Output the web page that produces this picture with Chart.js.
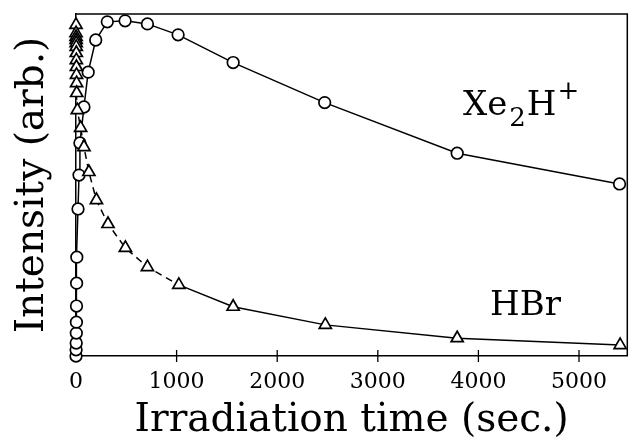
<!DOCTYPE html>
<html>
<head>
<meta charset="utf-8">
<script src="https://cdn.jsdelivr.net/npm/chart.js@4.4.1/dist/chart.umd.min.js"></script>
<style>
  html, body { margin: 0; padding: 0; background: #fff; }
  #wrap { width: 636px; height: 440px; }
</style>
</head>
<body>
<div id="wrap"><canvas id="c" width="636" height="440"></canvas></div>
<script>
// ---- Data ----
const xeTimes = [0, 1, 2, 3, 4, 5, 6, 8, 20, 30, 39, 79, 121, 196, 311, 488, 710, 1015, 1562, 2472, 3789, 5403];
const xeValues = [0, 0.018, 0.038, 0.067, 0.099, 0.146, 0.213, 0.289, 0.430, 0.529, 0.623, 0.728, 0.830, 0.924, 0.977, 0.980, 0.971, 0.939, 0.858, 0.741, 0.593, 0.503];

const hbrTimes = [0, 0.5, 1, 1.5, 2, 2.5, 3, 3.5, 4, 5, 6, 7, 13, 46, 79, 128, 203, 318, 491, 710, 1022, 1562, 2478, 3789, 5409];
const hbrValues = [0.968, 0.944, 0.933, 0.924, 0.915, 0.904, 0.886, 0.865, 0.845, 0.822, 0.798, 0.769, 0.719, 0.667, 0.611, 0.538, 0.456, 0.386, 0.316, 0.260, 0.208, 0.144, 0.091, 0.052, 0.032];

const xTickValues = [0, 1000, 2000, 3000, 4000, 5000];
const xMax = 5480;
const dashedUntil = 1022; // HBr line drawn dashed up to this time

const xTitle = 'Irradiation time (sec.)';
const yTitle = 'Intensity (arb.)';

const toPoints = (xs, ys) => xs.map((x, i) => ({ x: x, y: ys[i] }));

const SERIF = '"DejaVu Serif", "Liberation Serif", serif';

const framePlugin = {
  id: 'frame',
  afterDatasetsDraw(chart) {
    const { ctx, chartArea: a, scales } = chart;
    ctx.save();
    ctx.strokeStyle = '#000';
    ctx.lineWidth = 1.5;
    // top and right frame
    ctx.beginPath();
    ctx.moveTo(a.left, a.top);
    ctx.lineTo(a.right, a.top);
    ctx.lineTo(a.right, a.bottom);
    ctx.stroke();
    // x tick marks crossing the bottom axis
    ctx.lineWidth = 1.3;
    xTickValues.forEach(v => {
      if (v === 0) return;
      const px = scales.x.getPixelForValue(v);
      ctx.beginPath();
      ctx.moveTo(px, a.bottom - 6);
      ctx.lineTo(px, a.bottom + 6);
      ctx.stroke();
    });
    // annotations
    ctx.fillStyle = '#000';
    ctx.textBaseline = 'alphabetic';
    ctx.textAlign = 'left';
    let x = 463, base = 115;
    ctx.font = '34px ' + SERIF;
    ctx.fillText('Xe', x, base);
    x += ctx.measureText('Xe').width + 2;
    ctx.font = '26px ' + SERIF;
    ctx.fillText('2', x, base + 11);
    x += ctx.measureText('2').width + 1;
    ctx.font = '34px ' + SERIF;
    ctx.fillText('H', x, base);
    x += ctx.measureText('H').width + 1;
    ctx.font = '26px ' + SERIF;
    ctx.fillText('+', x, base - 16);
    ctx.font = '34px ' + SERIF;
    ctx.fillText('HBr', 490, 315);
    ctx.restore();
  }
};

new Chart(document.getElementById('c'), {
  type: 'line',
  data: {
    datasets: [
      {
        label: 'HBr',
        data: toPoints(hbrTimes, hbrValues),
        borderColor: '#000',
        borderWidth: 1.5,
        pointStyle: 'triangle',
        pointRadius: 7,
        pointBorderWidth: 1.7,
        pointBorderColor: '#000',
        pointBackgroundColor: '#fff',
        tension: 0,
        clip: false,
        segment: {
          borderDash: ctx => (ctx.p1.parsed.x <= dashedUntil ? [7, 5] : undefined)
        }
      },
      {
        label: 'Xe2H+',
        data: toPoints(xeTimes, xeValues),
        borderColor: '#000',
        borderWidth: 1.5,
        pointStyle: 'circle',
        pointRadius: 5.8,
        pointBorderWidth: 1.7,
        pointBorderColor: '#000',
        pointBackgroundColor: '#fff',
        tension: 0,
        clip: false
      }
    ]
  },
  options: {
    responsive: false,
    animation: false,
    devicePixelRatio: 1,
    layout: { padding: { top: 14, right: 2, left: 0, bottom: 0 } },
    plugins: { legend: { display: false }, tooltip: { enabled: false } },
    scales: {
      x: {
        type: 'linear',
        min: 0,
        max: xMax,
        afterFit: s => { s.height = 84; },
        afterBuildTicks: s => { s.ticks = xTickValues.map(v => ({ value: v })); },
        ticks: {
          stepSize: 1000,
          includeBounds: false,
          padding: 13,
          color: '#000',
          maxRotation: 0,
          autoSkip: false,
          font: { family: SERIF, size: 22 },
          callback: v => String(v)
        },
        grid: { display: false, drawTicks: false },
        border: { display: true, color: '#000', width: 1.5 },
        title: {
          display: true,
          text: xTitle,
          color: '#000',
          font: { family: SERIF, size: 39, lineHeight: 1 },
          padding: { top: 0, bottom: 0 }
        }
      },
      y: {
        min: 0,
        max: 1,
        afterFit: s => { s.width = 76; },
        ticks: { display: false },
        grid: { display: false, drawTicks: false },
        border: { display: true, color: '#000', width: 1.5 },
        title: {
          display: true,
          text: yTitle,
          color: '#000',
          font: { family: SERIF, size: 39, lineHeight: 1 },
          padding: { top: 13, bottom: 0 }
        }
      }
    }
  },
  plugins: [framePlugin]
});
</script>
</body>
</html>
